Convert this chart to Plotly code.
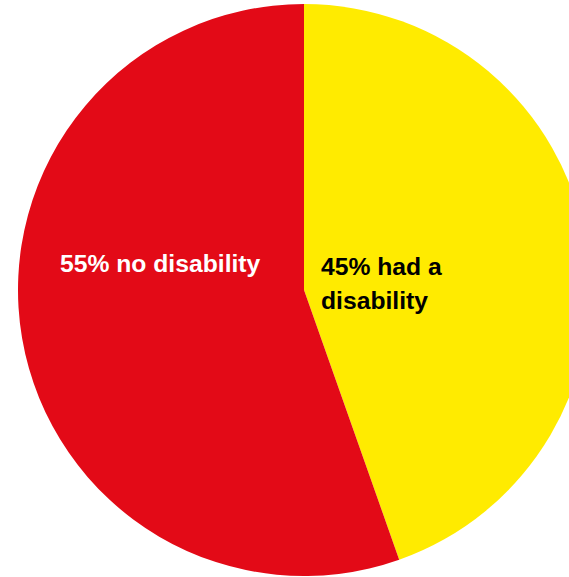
import plotly.graph_objects as go

labels = ["had a disability", "no disability"]
values = [44.6, 55.4]
colors = ["#FFEB00", "#E30A17"]
label_lines = [["45% had a", "disability"], ["55% no disability"]]

W, H = 608, 577
cx, cy, r = 304, 290, 286

fig = go.Figure(go.Pie(
    labels=labels,
    values=values,
    sort=False,
    direction="clockwise",
    rotation=0,
    marker=dict(colors=colors, line=dict(width=0)),
    textinfo="none",
    hoverinfo="none",
    showlegend=False,
    domain=dict(x=[0, 1], y=[(H - cy - r) / H, (H - cy + r) / H]),
))

font = dict(family="Liberation Sans, Arial, sans-serif", size=24.7)
annotations = [
    dict(text="<b>" + label_lines[1][0] + "</b>", x=160 / W, y=(H - 263) / H,
         xanchor="center", yanchor="middle", font=dict(color="white", **font)),
    dict(text="<b>" + label_lines[0][0] + "</b>", x=319 / W, y=(H - 266) / H,
         xanchor="left", yanchor="middle", font=dict(color="black", **font)),
    dict(text="<b>" + label_lines[0][1] + "</b>", x=319 / W, y=(H - 300) / H,
         xanchor="left", yanchor="middle", font=dict(color="black", **font)),
]
for a in annotations:
    a.update(xref="paper", yref="paper", showarrow=False)

fig.update_layout(
    width=W, height=H,
    margin=dict(l=0, r=0, t=0, b=0),
    paper_bgcolor="white",
    plot_bgcolor="white",
    annotations=annotations,
)

fig.write_html(
    "out.html",
    config={"displayModeBar": False},
    post_script="document.body.style.margin='0';document.body.style.overflow='hidden';document.documentElement.style.overflow='hidden';",
)
